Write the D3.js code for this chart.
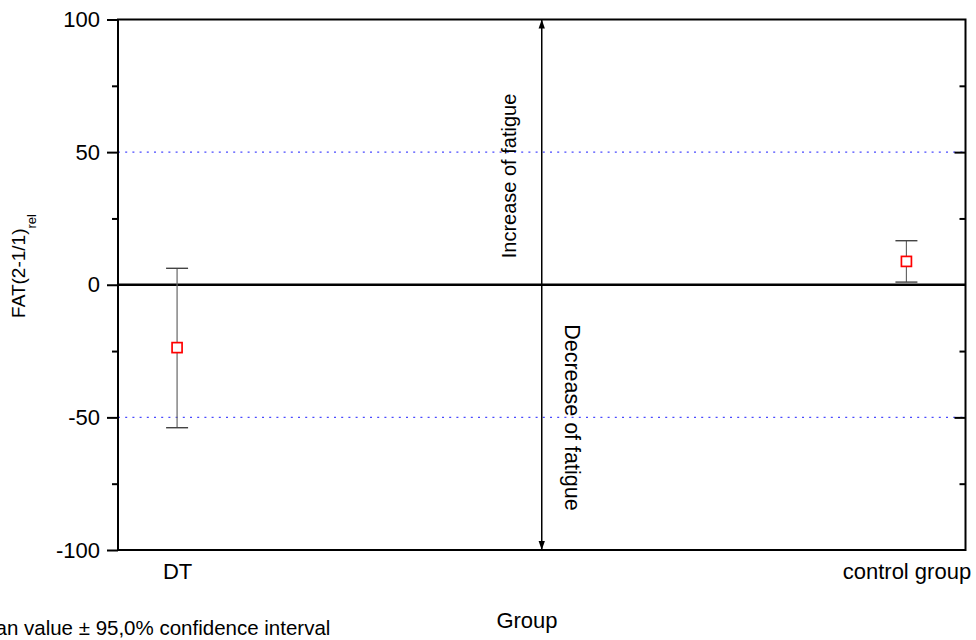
<!DOCTYPE html>
<html>
<head>
<meta charset="utf-8">
<script src="https://cdn.jsdelivr.net/npm/d3@7"></script>
<style>
  html, body { margin: 0; padding: 0; background: #fff; }
  svg { display: block; font-family: "Liberation Sans", Arial, sans-serif; }
</style>
</head>
<body>
<svg id="chart" width="976" height="640"></svg>
<script>
// Groups and their mean values with 95% confidence bounds
const groups = ["DT", "control group"];
const means = [-23.7, 8.8];
const lowerCI = [-53.9, 1.0];
const upperCI = [6.2, 16.6];
const yMajorTicks = [-100, -50, 0, 50, 100];
const yMinorTicks = [-75, -25, 25, 75];
const refLines = [-50, 50];

const W = 976, H = 640;
const margin = { left: 118, right: 10.5, top: 19.5, bottom: 90 };
const x0 = margin.left, x1 = W - margin.right;
const y0 = margin.top, y1 = H - margin.bottom;
const FONT = "Liberation Sans, Arial, sans-serif";

const svg = d3.select("#chart");

const x = d3.scaleLinear().domain([0.919, 2.081]).range([x0, x1]);
const y = d3.scaleLinear().domain([-100, 100]).range([y1, y0]);
const xpos = i => x(i + 1);

// dotted reference lines
svg.append("g").selectAll("line").data(refLines).join("line")
  .attr("x1", x0).attr("x2", x1)
  .attr("y1", d => y(d)).attr("y2", d => y(d))
  .attr("stroke", "#4a4aff").attr("stroke-width", 1.3)
  .attr("stroke-dasharray", "2,5.2");

// zero line
svg.append("line")
  .attr("x1", x0).attr("x2", x1)
  .attr("y1", y(0)).attr("y2", y(0))
  .attr("stroke", "#000").attr("stroke-width", 2.4);

// left axis (outward ticks), labels with plain hyphen minus
const leftAxis = d3.axisLeft(y).tickValues(yMajorTicks).tickSize(11).tickPadding(7)
  .tickFormat(d => String(d));
const gl = svg.append("g").attr("transform", `translate(${x0},0)`).call(leftAxis);
gl.select(".domain").remove();
gl.selectAll(".tick line").attr("stroke-width", 2);
gl.selectAll(".tick text").attr("font-size", 22).attr("fill", "#000")
  .attr("font-family", FONT);
svg.append("g").attr("transform", `translate(${x0},0)`)
  .call(d3.axisLeft(y).tickValues(yMinorTicks).tickSize(6).tickFormat(""))
  .call(g => g.select(".domain").remove())
  .selectAll(".tick line").attr("stroke-width", 2);

// right axis (inward ticks)
svg.append("g").attr("transform", `translate(${x1},0)`)
  .call(d3.axisLeft(y).tickValues([-50, 50]).tickSize(11).tickFormat(""))
  .call(g => g.select(".domain").remove())
  .selectAll(".tick line").attr("stroke-width", 2);
svg.append("g").attr("transform", `translate(${x1},0)`)
  .call(d3.axisLeft(y).tickValues(yMinorTicks).tickSize(6).tickFormat(""))
  .call(g => g.select(".domain").remove())
  .selectAll(".tick line").attr("stroke-width", 2);

// bottom category labels
const xAxis = d3.axisBottom(x).tickValues([1, 2]).tickSize(0).tickPadding(13)
  .tickFormat((d, i) => groups[i]);
const gb = svg.append("g").attr("transform", `translate(0,${y1})`).call(xAxis);
gb.select(".domain").remove();
gb.selectAll(".tick text").attr("font-size", 22).attr("fill", "#000")
  .attr("font-family", FONT);

// frame
svg.append("rect")
  .attr("x", x0).attr("y", y0)
  .attr("width", x1 - x0).attr("height", y1 - y0)
  .attr("fill", "none").attr("stroke", "#000").attr("stroke-width", 2);

// central double-headed arrow
const defs = svg.append("defs");
defs.append("marker").attr("id", "ah").attr("viewBox", "0 0 10 10")
  .attr("refX", 10).attr("refY", 5).attr("markerWidth", 9).attr("markerHeight", 9)
  .attr("markerUnits", "userSpaceOnUse").attr("orient", "auto-start-reverse")
  .append("path").attr("d", "M0,1.5 L10,5 L0,8.5 Z").attr("fill", "#000");
const xMid = x(1.5);
svg.append("line")
  .attr("x1", xMid).attr("x2", xMid)
  .attr("y1", y(100)).attr("y2", y(-100))
  .attr("stroke", "#000").attr("stroke-width", 1.5)
  .attr("marker-start", "url(#ah)").attr("marker-end", "url(#ah)");

svg.append("text")
  .attr("transform", `translate(${xMid - 31},${y(41)}) rotate(-90)`)
  .attr("text-anchor", "middle").attr("dominant-baseline", "middle")
  .attr("font-size", 20).text("Increase of fatigue");
svg.append("text")
  .attr("transform", `translate(${xMid + 29},${y(-50)}) rotate(90)`)
  .attr("text-anchor", "middle").attr("dominant-baseline", "middle")
  .attr("font-size", 21.5).text("Decrease of fatigue");

// error bars
const eb = svg.append("g");
groups.forEach((g, i) => {
  const cx = xpos(i);
  eb.append("line").attr("x1", cx).attr("x2", cx)
    .attr("y1", y(upperCI[i])).attr("y2", y(lowerCI[i]))
    .attr("stroke", "#666").attr("stroke-width", 1.2);
  [upperCI[i], lowerCI[i]].forEach(v => {
    eb.append("line").attr("x1", cx - 11).attr("x2", cx + 11)
      .attr("y1", y(v)).attr("y2", y(v))
      .attr("stroke", "#444").attr("stroke-width", 1.4);
  });
});

// mean markers
svg.append("g").selectAll("rect").data(means).join("rect")
  .attr("x", (d, i) => xpos(i) - 5).attr("y", d => y(d) - 5)
  .attr("width", 10).attr("height", 10)
  .attr("fill", "#fff").attr("stroke", "#ff0000").attr("stroke-width", 1.7);

// axis titles
const yt = svg.append("text")
  .attr("transform", `translate(25,266) rotate(-90)`)
  .attr("text-anchor", "middle").attr("font-size", 19);
yt.append("tspan").text("FAT(2-1/1)");
yt.append("tspan").attr("font-size", 13).attr("dy", 11).text("rel");

svg.append("text").attr("x", 527).attr("y", 628)
  .attr("text-anchor", "middle").attr("font-size", 22).text("Group");

svg.append("text").attr("x", -33).attr("y", 635)
  .attr("font-size", 20.5).text("Mean value ± 95,0% confidence interval");
</script>
</body>
</html>
